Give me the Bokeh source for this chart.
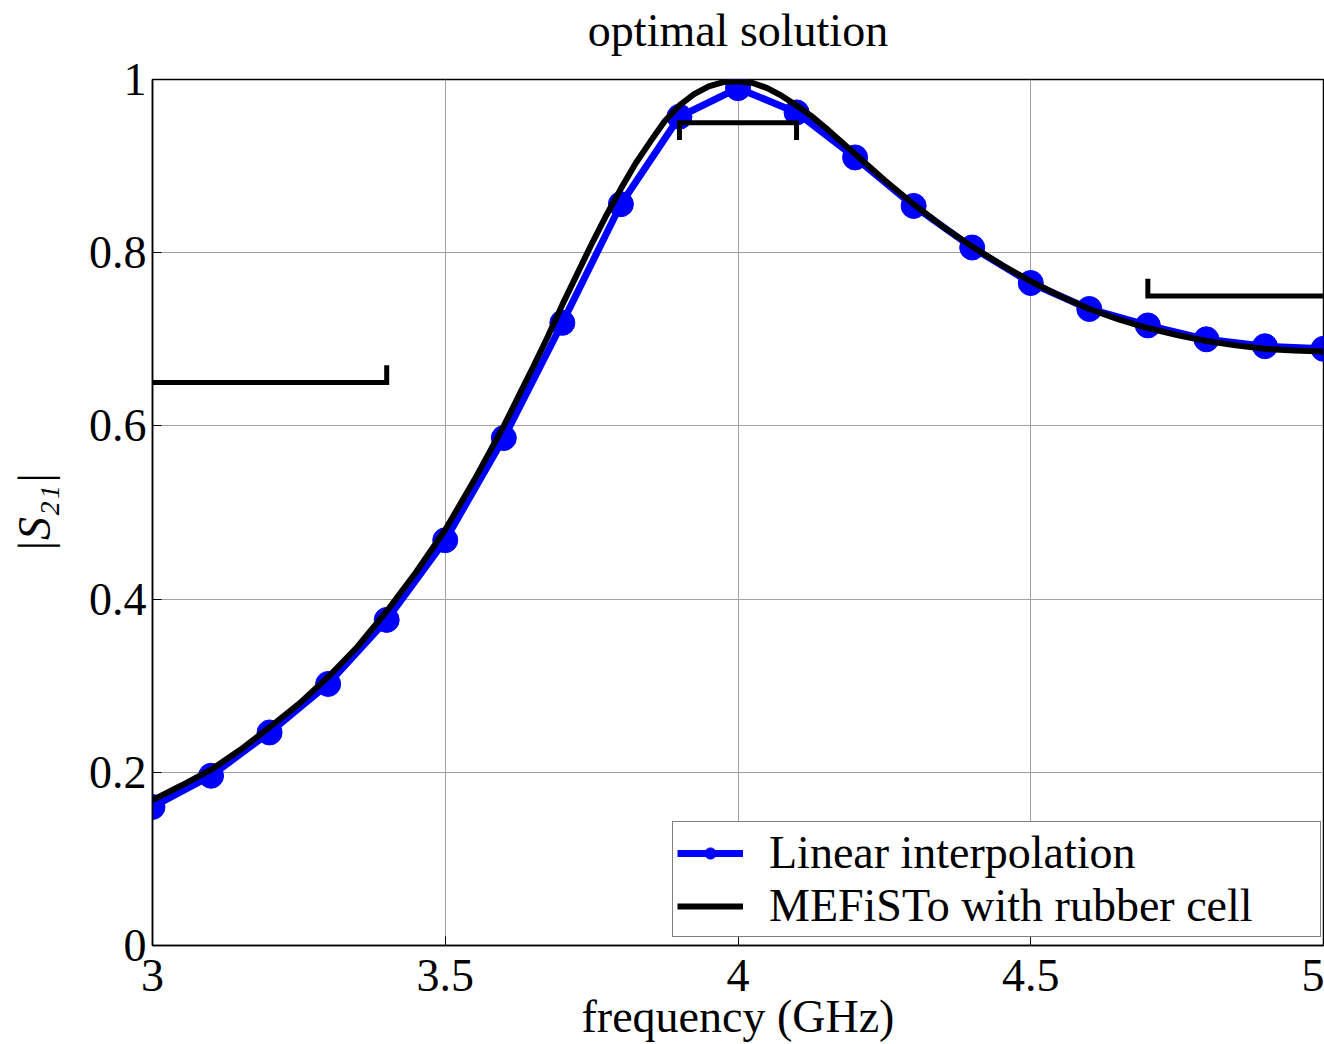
from bokeh.plotting import figure
from bokeh.models import (Range1d, FixedTicker, Legend, LegendItem, ColumnDataSource,
                          LinearAxis)
from bokeh.embed import file_html
from bokeh.resources import INLINE

# ---------------- data ----------------
freq_pts = [3.0, 3.1, 3.2, 3.3, 3.4, 3.5, 3.6, 3.7, 3.8, 3.9, 4.0,
            4.1, 4.2, 4.3, 4.4, 4.5, 4.6, 4.7, 4.8, 4.9, 5.0]
s21_linear = [0.160, 0.196, 0.246, 0.302, 0.376, 0.468, 0.586, 0.719,
              0.856, 0.957, 0.990, 0.962, 0.910, 0.854, 0.806, 0.765,
              0.735, 0.716, 0.700, 0.692, 0.689]

freq_fine = [3.00, 3.05, 3.10, 3.15, 3.20, 3.25, 3.30, 3.35, 3.40, 3.45,
             3.50, 3.55, 3.60, 3.625, 3.65, 3.675, 3.70, 3.725, 3.75, 3.775,
             3.80, 3.825, 3.85, 3.875, 3.90, 3.925, 3.95, 3.975, 4.00, 4.025,
             4.05, 4.075, 4.10, 4.125, 4.15, 4.175, 4.20, 4.25, 4.30, 4.35,
             4.40, 4.45, 4.50, 4.55, 4.60, 4.65, 4.70, 4.75, 4.80, 4.85,
             4.90, 4.95, 5.00]
s21_mefisto = [0.168, 0.185, 0.203, 0.226, 0.252, 0.279, 0.310, 0.345, 0.386, 0.431,
               0.480, 0.538, 0.600, 0.634, 0.668, 0.703, 0.740, 0.775, 0.810, 0.843,
               0.874, 0.903, 0.928, 0.952, 0.970, 0.983, 0.992, 0.997, 0.998, 0.996,
               0.990, 0.981, 0.970, 0.958, 0.944, 0.929, 0.914, 0.884, 0.856, 0.830,
               0.807, 0.786, 0.767, 0.750, 0.735, 0.723, 0.713, 0.705, 0.698, 0.693,
               0.689, 0.687, 0.686]

# specification masks
mask_xs = [[3.0, 3.4, 3.4], [3.9, 3.9, 4.1, 4.1], [4.7, 4.7, 5.0]]
mask_ys = [[0.65, 0.65, 0.67], [0.93, 0.95, 0.95, 0.93], [0.77, 0.75, 0.75]]

x_ticks = [3, 3.5, 4, 4.5, 5]
x_tick_labels = ["3", "3.5", "4", "4.5", "5"]
y_ticks = [0, 0.2, 0.4, 0.6, 0.8, 1]
y_tick_labels = ["0", "0.2", "0.4", "0.6", "0.8", "1"]

title_text = "optimal solution"
x_label = "frequency (GHz)"
y_label = "|S\u2082\u2081|"
series_names = ["Linear interpolation", "MEFiSTo with rubber cell"]

FONT = "Liberation Serif"
FS = "46px"

p = figure(width=1324, height=1044, output_backend="svg", toolbar_location=None,
           x_range=Range1d(3, 5), y_range=Range1d(0, 1),
           min_border_left=152, min_border_right=1, min_border_top=79,
           min_border_bottom=98)
p.background_fill_color = "white"
p.border_fill_color = "white"
p.outline_line_color = "black"
p.outline_line_width = 1.5
p.outline_line_alpha = 1

xax = p.below[0]
yax = p.left[0]
for ax in (xax, yax):
    ax.axis_line_color = "black"
    ax.axis_line_width = 1.5
    ax.major_tick_in = 9
    ax.major_tick_out = 0
    ax.major_tick_line_color = "black"
    ax.minor_tick_line_color = None
    ax.major_label_text_font = FONT
    ax.major_label_text_font_size = FS
    ax.major_label_text_color = "black"
    ax.axis_label_text_font = FONT
    ax.axis_label_text_font_size = FS
    ax.axis_label_text_color = "black"

xax.axis_label = x_label
xax.axis_label_text_font_style = "normal"
xax.axis_label_standoff = -3
xax.major_label_standoff = 14
yax.axis_label = y_label
yax.axis_label_text_font_style = "italic"
yax.axis_label_standoff = 26
yax.major_label_standoff = 6

xax.ticker = FixedTicker(ticks=x_ticks)
yax.ticker = FixedTicker(ticks=y_ticks)
xax.major_label_overrides = {t: l for t, l in zip(x_ticks, x_tick_labels)}
yax.major_label_overrides = {t: l for t, l in zip(y_ticks, y_tick_labels)}

# title drawn as the label of a tick-less axis above the frame
top_axis = LinearAxis(ticker=FixedTicker(ticks=[]), axis_label=title_text,
                      axis_line_color=None, major_tick_line_color=None,
                      minor_tick_line_color=None, major_label_standoff=0,
                      major_label_text_font_size="1px",
                      axis_label_standoff=24, axis_label_text_font=FONT,
                      axis_label_text_font_size=FS,
                      axis_label_text_font_style="normal",
                      axis_label_text_color="black")
p.add_layout(top_axis, "above")

p.grid.grid_line_color = "#a0a0a0"
p.grid.grid_line_width = 1
p.xgrid.ticker = FixedTicker(ticks=x_ticks)
p.ygrid.ticker = FixedTicker(ticks=y_ticks)

blue = "#0000ff"
src_lin = ColumnDataSource(dict(x=freq_pts, y=s21_linear))
src_mef = ColumnDataSource(dict(x=freq_fine, y=s21_mefisto))

l_blue = p.line("x", "y", source=src_lin, line_color=blue, line_width=7)
p.scatter("x", "y", source=src_lin, size=25, fill_color=blue, line_color=blue)
l_black = p.line("x", "y", source=src_mef, line_color="black", line_width=6)
p.multi_line(xs=mask_xs, ys=mask_ys, line_color="black", line_width=5,
             line_join="miter")

# small marker used only for the legend entry (placed outside the visible range)
legend_dot = p.scatter(x=[freq_pts[0]], y=[-1.0], size=12, fill_color=blue,
                       line_color=blue)

legend = Legend(items=[LegendItem(label=series_names[0], renderers=[l_blue, legend_dot]),
                       LegendItem(label=series_names[1], renderers=[l_black])],
                location=(520, 8))
legend.label_text_font = FONT
legend.label_text_font_size = FS
legend.label_text_color = "black"
legend.border_line_color = "black"
legend.border_line_width = 1.5
legend.background_fill_color = "white"
legend.background_fill_alpha = 1
legend.padding = 4
legend.spacing = 0
legend.margin = 0
legend.glyph_width = 66
legend.glyph_height = 28
legend.label_height = 53
legend.label_standoff = 26
legend.label_width = 547
p.add_layout(legend, "center")

open("out.html", "w").write(file_html(p, INLINE))
